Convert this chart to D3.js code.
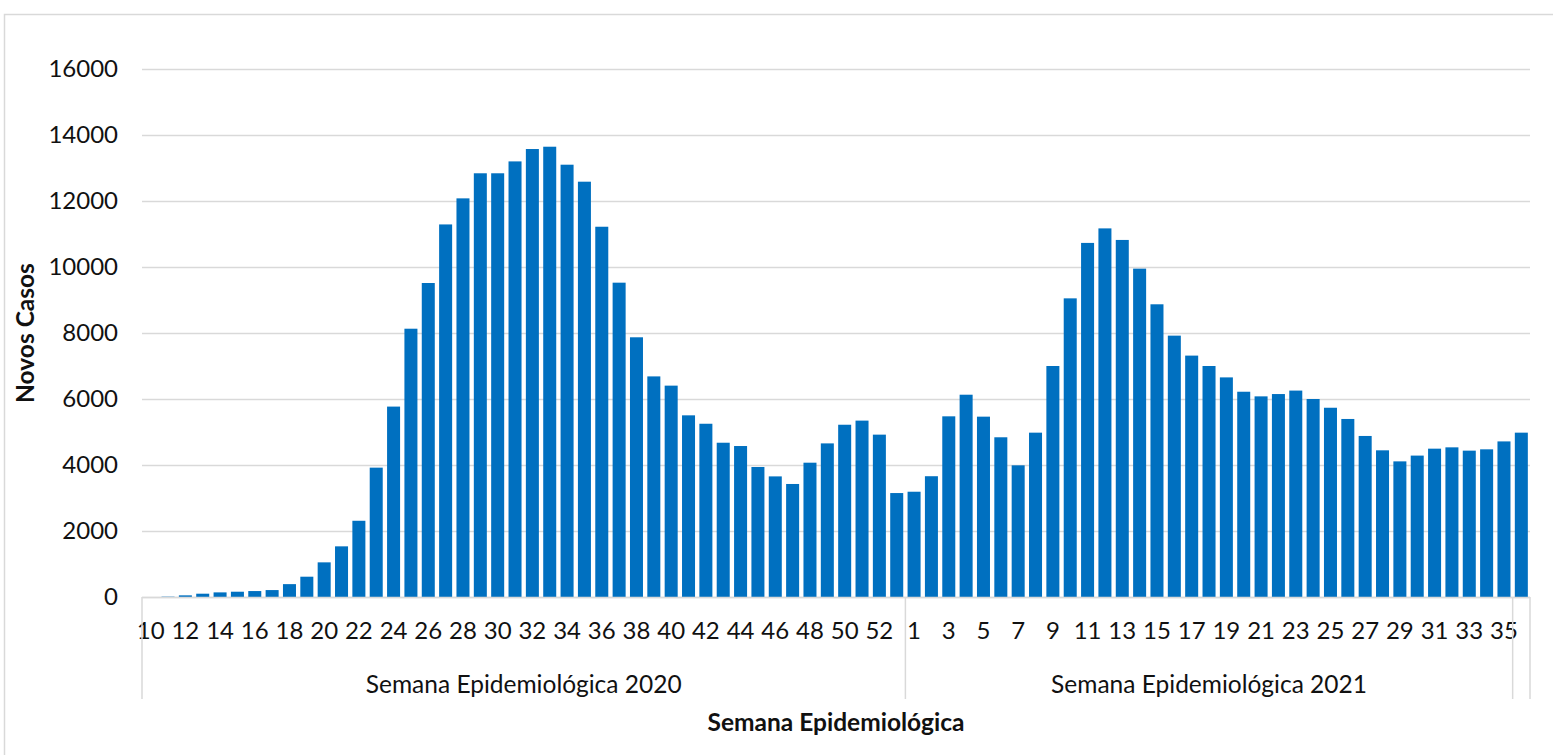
<!DOCTYPE html>
<html>

<head>
    <meta charset="utf-8">
    <style>
        body {
            margin: 0;
            background: #fff;
        }

        svg {
            font-family: Lato, 'Open Sans', sans-serif;
        }

        .grid line {
            stroke: #d9d9d9;
            stroke-width: 1.5;
        }

        .axis .tick text {
            font-family: Lato, 'Open Sans', sans-serif;
            fill: #111;
        }

        .y .tick text {
            font-size: 24px;
        }

        .x .tick text {
            font-size: 24px;
        }

        .group-label {
            font-size: 24.5px;
            fill: #111;
        }

        .axis-title {
            font-size: 24.5px;
            font-weight: bold;
            fill: #111;
        }
    </style>
</head>

<body>
    <svg width="1553" height="755"></svg>

    <script src="https://d3js.org/d3.v7.min.js"></script>

    <script>
        // weeks of 2020 and their new cases
        const weeks2020 = [10, 11, 12, 13, 14, 15, 16, 17, 18, 19, 20, 21, 22, 23, 24, 25, 26, 27, 28, 29,
            30, 31, 32, 33, 34, 35, 36, 37, 38, 39, 40, 41, 42, 43, 44, 45, 46, 47, 48, 49, 50, 51, 52, 53]
        const cases2020 = [0, 10, 50, 100, 140, 160, 180, 210, 390, 615, 1050, 1535, 2310, 3920, 5770, 8130,
            9515, 11290, 12080, 12840, 12840, 13200, 13575, 13645, 13100, 12585, 11220, 9525, 7870, 6685,
            6405, 5505, 5250, 4675, 4575, 3940, 3655, 3425, 4070, 4655, 5220, 5345, 4920, 3150]

        // weeks of 2021
        const weeks2021 = [1, 2, 3, 4, 5, 6, 7, 8, 9, 10, 11, 12, 13, 14, 15, 16, 17, 18, 19, 20, 21, 22, 23,
            24, 25, 26, 27, 28, 29, 30, 31, 32, 33, 34, 35]
        const cases2021 = [3190, 3660, 5475, 6130, 5465, 4840, 3990, 4980, 7000, 9050, 10730, 11170, 10820,
            9950, 8870, 7920, 7315, 7000, 6655, 6220, 6080, 6150, 6255, 6000, 5735, 5395, 4880, 4445, 4110,
            4285, 4495, 4535, 4435, 4475, 4715]

        // last week sits in its own (unnamed) group
        const weeksExtra = [36]
        const casesExtra = [4980]

        const groups = [
            { name: "Semana Epidemiológica 2020", weeks: weeks2020, cases: cases2020, showOdd: false },
            { name: "Semana Epidemiológica 2021", weeks: weeks2021, cases: cases2021, showOdd: true },
            { name: "", weeks: weeksExtra, cases: casesExtra, showOdd: null }
        ]

        const yTicks = [0, 2000, 4000, 6000, 8000, 10000, 12000, 14000, 16000]

        let data = []
        groups.forEach((g, gi) => {
            g.weeks.forEach((w, i) => {
                data.push({ key: gi + "-" + w, week: w, value: g.cases[i], group: gi })
            })
        })

        let svg = d3.select("svg")

        let margin = { top: 69, right: 23, bottom: 158, left: 142 }
        let width = 1553
        let height = 755

        // outer chart frame
        svg.append("rect")
            .attr("x", 4.5)
            .attr("y", 14.5)
            .attr("width", 1600)
            .attr("height", 800)
            .attr("fill", "none")
            .attr("stroke", "#d9d9d9")
            .attr("stroke-width", 1.5)

        let x = d3.scaleBand()
            .domain(data.map(d => d.key))
            .range([margin.left, width - margin.right])
            .paddingInner(0.25)
            .paddingOuter(0.125)

        let y = d3.scaleLinear()
            .domain([0, 16000])
            .range([height - margin.bottom, margin.top])

        // gridlines
        svg.append("g")
            .attr("class", "grid")
            .selectAll("line")
            .data(yTicks)
            .join("line")
            .attr("x1", margin.left)
            .attr("x2", width - margin.right)
            .attr("y1", d => Math.round(y(d)) + 0.5)
            .attr("y2", d => Math.round(y(d)) + 0.5)

        let yAxis = svg.append("g")
            .attr("class", "y axis")
            .attr("transform", `translate(${margin.left - 24}, 0)`)
            .call(d3.axisLeft(y).tickValues(yTicks).tickSize(0).tickPadding(0).tickFormat(d3.format("d")))
            .call(g => g.select(".domain").remove())

        // bars
        svg.append("g")
            .selectAll("rect")
            .data(data)
            .join("rect")
            .attr("x", d => x(d.key))
            .attr("width", x.bandwidth())
            .attr("y", d => y(d.value))
            .attr("height", d => y(0) - y(d.value))
            .attr("fill", "#0070c0")

        // week labels: even weeks in 2020, odd weeks in 2021
        let labelled = data.filter(d => {
            let g = groups[d.group]
            if (g.showOdd === null) return false
            return g.showOdd ? d.week % 2 == 1 : d.week % 2 == 0
        }).map(d => d.key)

        let weekOf = {}
        data.forEach(d => weekOf[d.key] = d.week)

        svg.append("g")
            .attr("class", "x axis")
            .attr("transform", `translate(0, ${y(0)})`)
            .call(d3.axisBottom(x).tickValues(labelled).tickSize(0).tickPadding(25).tickFormat(k => weekOf[k]))
            .call(g => g.select(".domain").remove())

        // group separators
        let half = x.step() * x.paddingInner() / 2
        let edges = []
        groups.forEach((g, gi) => {
            let keys = data.filter(d => d.group == gi).map(d => d.key)
            let x0 = x(keys[0]) - half
            let x1 = x(keys[keys.length - 1]) + x.bandwidth() + half
            edges.push(x0)
            if (gi == groups.length - 1) edges.push(x1)

            svg.append("text")
                .attr("class", "group-label")
                .attr("x", (x0 + x1) / 2)
                .attr("y", 693)
                .attr("text-anchor", "middle")
                .text(g.name)
        })

        let sep = svg.append("g").attr("class", "grid")
        sep.selectAll("line")
            .data(edges)
            .join("line")
            .attr("x1", d => d)
            .attr("x2", d => d)
            .attr("y1", y(0))
            .attr("y2", 699)

        sep.append("line")
            .attr("x1", margin.left)
            .attr("x2", width - margin.right)
            .attr("y1", Math.round(y(0)) + 0.5)
            .attr("y2", Math.round(y(0)) + 0.5)

        svg.append("text")
            .attr("class", "axis-title")
            .attr("x", (margin.left + width - margin.right) / 2)
            .attr("y", 731)
            .attr("text-anchor", "middle")
            .text("Semana Epidemiológica")

        svg.append("text")
            .attr("class", "axis-title")
            .attr("transform", `translate(34, ${(y(0) + y(16000)) / 2}) rotate(-90)`)
            .attr("text-anchor", "middle")
            .text("Novos Casos")
    </script>
</body>

</html>
